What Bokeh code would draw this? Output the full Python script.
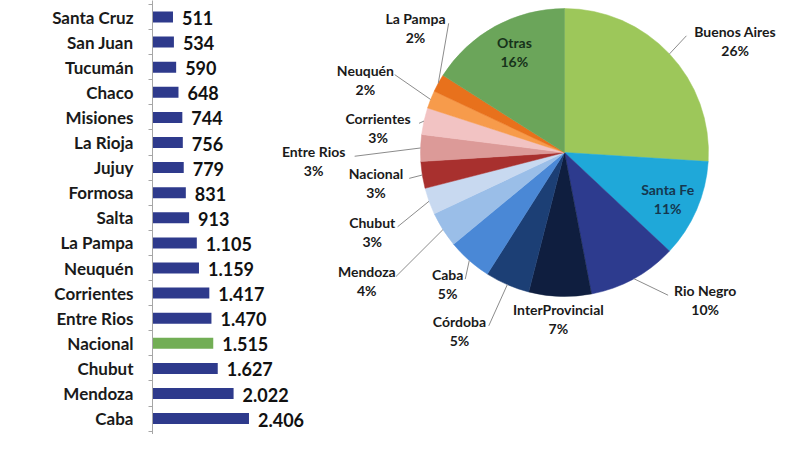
import math
from bokeh.plotting import figure
from bokeh.models import Range1d, FixedTicker, ColumnDataSource
from bokeh.core.properties import value
from bokeh.embed import file_html
from bokeh.resources import INLINE

# ---------------- data ----------------
# bar chart, top to bottom
provinces = ["Santa Cruz", "San Juan", "Tucumán", "Chaco", "Misiones", "La Rioja",
             "Jujuy", "Formosa", "Salta", "La Pampa", "Neuquén", "Corrientes",
             "Entre Rios", "Nacional", "Chubut", "Mendoza", "Caba", "Córdoba"]
amounts = [511, 534, 590, 648, 744, 756, 779, 831, 913, 1105, 1159, 1417,
           1470, 1515, 1627, 2022, 2406, 2506]

# pie chart, clockwise from 12 o'clock
pie_labels = ["Buenos Aires", "Santa Fe", "Rio Negro", "InterProvincial", "Córdoba",
              "Caba", "Mendoza", "Chubut", "Nacional", "Entre Rios", "Corrientes",
              "Neuquén", "La Pampa", "Otras"]
pie_pct = [26, 11, 10, 7, 5, 5, 4, 3, 3, 3, 3, 2, 2, 16]

# ---------------- styles / layout ----------------
BAR_COLOR = "#2E3A8C"
HIGHLIGHT = "#72AE55"
pie_colors = ["#9DC75A", "#1FA8D9", "#2D3B8E", "#0F1E3F", "#1C3F75", "#4A88D6",
              "#9ABEE8", "#C8D9F0", "#A8302E", "#DC9A98", "#F2C3C3", "#F79B4B",
              "#E8711C", "#6BA55A"]
label_radius = [204, 113, 204, 167, 207, 176, 236, 208, 191, 251, 188, 212, 194, 112]
label_nudge = [10.0, 0.7, -14.8, 0.3, 7.1, 0.2, -0.7, -2.6, -0.3, -3.8, -5.2, -1.5, 11.0, 2.2]
label_colors = ["#1a1a1a", "#15374f", "#1a1a1a", "#1a1a1a", "#1a1a1a", "#1a1a1a",
                "#1a1a1a", "#1a1a1a", "#1a1a1a", "#1a1a1a", "#1a1a1a", "#1a1a1a",
                "#1a1a1a", "#17331a"]
FONT = "Lato"
W, H = 784, 434
ROW_PX = 25.1
PX_PER_UNIT = 0.0401
AXIS_X = 152
TOP_ROW_Y = 16.5
PIE_CX, PIE_CY = 564, 152
R = 144

# ---------------- figure ----------------
n = len(provinces)
ys = [n - 1 - i for i in range(n)]
y_end = (n - 1) + TOP_ROW_Y / ROW_PX
y_start = y_end - H / ROW_PX
x_end = (W - AXIS_X) / PX_PER_UNIT

p = figure(width=W, height=H, output_backend="svg", toolbar_location=None,
           x_range=Range1d(0, x_end), y_range=Range1d(y_start, y_end),
           x_axis_location=None, min_border_left=AXIS_X, min_border_right=0,
           min_border_top=0, min_border_bottom=0)
p.grid.visible = False
p.outline_line_color = None
p.extra_x_ranges = {"pie": Range1d(-(PIE_CX - AXIS_X), W - PIE_CX)}
p.extra_y_ranges = {"pie": Range1d(-(H - PIE_CY), PIE_CY)}

# ---------------- bar chart ----------------
bar_src = ColumnDataSource(dict(
    y=ys,
    v=amounts,
    label=[f"{a:,}".replace(",", ".") for a in amounts],
    color=[HIGHLIGHT if prov == "Nacional" else BAR_COLOR for prov in provinces],
))

yax = p.yaxis[0]
yax.ticker = FixedTicker(ticks=ys, minor_ticks=[k + 0.5 for k in range(-1, n)])
yax.major_label_overrides = {y: name for y, name in zip(ys, provinces)}
yax.major_tick_in = 0
yax.major_tick_out = 0
yax.minor_tick_in = 0
yax.minor_tick_out = 4
yax.minor_tick_line_color = "#A6A6A6"
yax.axis_line_color = "#A6A6A6"
yax.major_label_standoff = 15
yax.major_label_text_font = FONT
yax.major_label_text_font_style = "bold"
yax.major_label_text_font_size = "17px"
yax.major_label_text_color = "#1a1a1a"

p.hbar(y="y", left=0, right="v", height=0.44, fill_color="color",
       line_color=None, source=bar_src)
p.text(x="v", y="y", text="label", x_offset=9, y_offset=1, text_baseline="middle",
       text_align="left", text_font=value(FONT), text_font_style="bold",
       text_font_size="18px", text_color="#111111", source=bar_src)

# ---------------- pie chart ----------------
total = sum(pie_pct)
starts, ends, mids = [], [], []
cum = 0
for v in pie_pct:
    starts.append(math.pi / 2 - 2 * math.pi * cum / total)
    ends.append(math.pi / 2 - 2 * math.pi * (cum + v) / total)
    mids.append(360.0 * (cum + v / 2) / total)  # clockwise from top, degrees
    cum += v

pie_src = ColumnDataSource(dict(start=starts, end=ends, color=pie_colors))
p.wedge(x=0, y=0, radius=R, start_angle="start", end_angle="end", direction="clock",
        fill_color="color", line_color="color", line_width=0.5, source=pie_src,
        x_range_name="pie", y_range_name="pie")

nx, ny, px_, py_ = [], [], [], []
seg = dict(x0=[], y0=[], x1=[], y1=[])
pct_text = [f"{v}%" for v in pie_pct]
for name, mid, r, nud in zip(pie_labels, mids, label_radius, label_nudge):
    th = math.radians(mid + nud)
    x = r * math.sin(th)
    y = r * math.cos(th)
    nx.append(x); ny.append(y + 9.5)
    px_.append(x); py_.append(y - 9.5)
    if r > 1.2 * R:
        m = math.radians(mid)
        hw = len(name) * 3.9 + 2
        ex = x + hw if x < 0 else x - hw
        seg["x0"].append(R * math.sin(m)); seg["y0"].append(R * math.cos(m))
        seg["x1"].append(ex); seg["y1"].append(y + 5)

p.segment(x0="x0", y0="y0", x1="x1", y1="y1", source=ColumnDataSource(seg),
          line_color="#8C8C8C", line_width=1, x_range_name="pie", y_range_name="pie")

lab_src = ColumnDataSource(dict(nx=nx, ny=ny, px=px_, py=py_, name=pie_labels,
                                pct=pct_text, col=label_colors))
p.text(x="nx", y="ny", text="name", text_align="center", text_baseline="middle",
       text_font=value(FONT), text_font_style="bold", text_font_size="14px",
       text_color="col", source=lab_src, x_range_name="pie", y_range_name="pie")
p.text(x="px", y="py", text="pct", text_align="center", text_baseline="middle",
       text_font=value(FONT), text_font_style="bold", text_font_size="14px",
       text_color="col", source=lab_src, x_range_name="pie", y_range_name="pie")

open("out.html", "w").write(file_html(p, INLINE))
